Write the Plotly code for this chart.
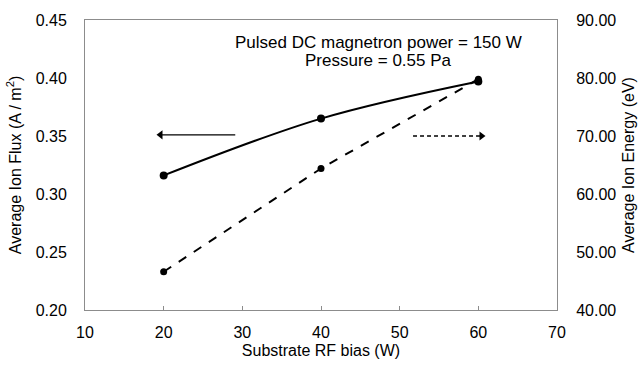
import plotly.graph_objects as go

rf_bias = [20, 40, 60]
ion_flux = [0.316, 0.365, 0.397]
ion_energy = [46.6, 64.4, 79.8]

x_ticks = [10, 20, 30, 40, 50, 60, 70]
left_ticks = [0.20, 0.25, 0.30, 0.35, 0.40, 0.45]
right_ticks = [40, 50, 60, 70, 80, 90]

# indicator arrows (data coordinates)
flux_arrow_x = [29.1, 19.6]
flux_arrow_y = [0.351, 0.351]
energy_arrow_x = [51.7, 60.4]
energy_arrow_y = [70.0, 70.0]

FONT = "Liberation Sans, Arial, sans-serif"
FRAME = "#8c8c8c"

fig = go.Figure()

fig.add_trace(go.Scatter(
    x=rf_bias, y=ion_flux, mode="lines+markers", line=dict(color="black", width=2, shape="spline"),
    marker=dict(size=8, color="black"), yaxis="y", showlegend=False))
fig.add_trace(go.Scatter(
    x=rf_bias, y=ion_energy, mode="lines+markers", line=dict(color="black", width=2, dash="dash"),
    marker=dict(size=7, color="black"), yaxis="y2", showlegend=False))

# arrows
fig.add_trace(go.Scatter(
    x=flux_arrow_x, y=flux_arrow_y, mode="lines", line=dict(color="black", width=1.3),
    yaxis="y", showlegend=False, hoverinfo="skip"))
fig.add_trace(go.Scatter(
    x=[flux_arrow_x[1]], y=[flux_arrow_y[1]], mode="markers",
    marker=dict(symbol="triangle-left", size=8, color="black"),
    yaxis="y", showlegend=False, hoverinfo="skip"))
fig.add_trace(go.Scatter(
    x=energy_arrow_x, y=energy_arrow_y, mode="lines", line=dict(color="black", width=1.3, dash="4px,3px"),
    yaxis="y2", showlegend=False, hoverinfo="skip"))
fig.add_trace(go.Scatter(
    x=[energy_arrow_x[1]], y=[energy_arrow_y[1]], mode="markers",
    marker=dict(symbol="triangle-right", size=8, color="black"),
    yaxis="y2", showlegend=False, hoverinfo="skip"))

fig.add_annotation(x=47.3, y=0.431, xref="x", yref="y", text="Pulsed DC magnetron power = 150 W",
                   showarrow=False, font=dict(size=17, color="black", family=FONT), xanchor="center")
fig.add_annotation(x=47.3, y=0.4155, xref="x", yref="y", text="Pressure = 0.55 Pa",
                   showarrow=False, font=dict(size=17, color="black", family=FONT), xanchor="center")

fig.update_layout(
    width=638, height=365,
    margin=dict(l=85, r=81, t=20, b=55),
    paper_bgcolor="white", plot_bgcolor="white",
    font=dict(family=FONT, size=16, color="black"),
    xaxis=dict(range=[10, 70], tickvals=x_ticks, ticktext=[str(v) for v in x_ticks],
               showgrid=False, zeroline=False, showline=True, linecolor=FRAME, linewidth=1,
               mirror=True, ticks="inside", ticklen=4, tickcolor=FRAME, automargin=False,
               ticklabelstandoff=8,
               title=dict(text="Substrate RF bias (W)", font=dict(size=16), standoff=4)),
    yaxis=dict(range=[0.20, 0.45], tickvals=left_ticks, ticktext=[f"{v:.2f}" for v in left_ticks],
               showgrid=False, zeroline=False, showline=True, linecolor=FRAME, linewidth=1,
               ticks="", ticklabelstandoff=14, automargin=False,
               title=dict(text="Average Ion Flux (A / m<sup>2</sup>)", font=dict(size=16), standoff=10)),
    yaxis2=dict(range=[40, 90], tickvals=right_ticks, ticktext=[f"{v:.2f}" for v in right_ticks],
                overlaying="y", side="right", showgrid=False, zeroline=False, automargin=False,
                showline=True, linecolor=FRAME, linewidth=1, ticks="", ticklabelstandoff=15,
                title=dict(text="Average Ion Energy (eV)", font=dict(size=16), standoff=7)),
)

fig.write_html("out.html")
